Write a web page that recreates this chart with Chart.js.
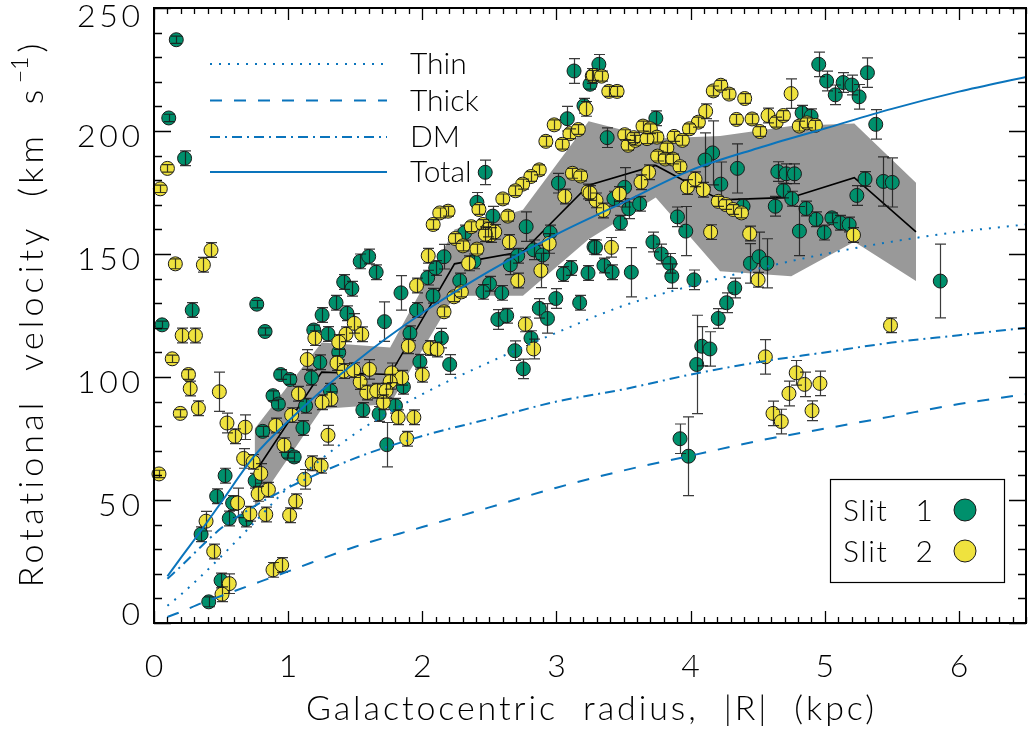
<!DOCTYPE html>
<html>
<head>
<meta charset="utf-8">
<title>Rotation curve</title>
<script src="https://cdn.jsdelivr.net/npm/chart.js@4.4.1/dist/chart.umd.min.js"></script>
<style>
  html, body { margin: 0; padding: 0; background: #fff; overflow: hidden; }
  #wrap { width: 1034px; height: 735px; }
</style>
</head>
<body>
<div id="wrap"><canvas id="c" width="1034" height="735"></canvas></div>
<script>
// ---- Slit 1: galactocentric radius (kpc), rotational velocity (km/s), error (km/s)
const slit1R = [
  0.166,0.11,0.228,0.285,0.06,0.766,0.828,0.944,1.013,0.887,0.927,0.81,1.0,1.045,0.53,0.467,0.754,0.586,0.561,0.685,0.351,0.5,0.408,
  1.537,1.60,1.656,1.414,1.475,1.841,2.04,2.10,1.357,1.253,1.438,1.718,1.191,1.297,1.957,2.08,1.908,1.982,1.377,1.236,1.174,1.859,1.315,1.13,1.80,1.557,1.678,1.11,1.735,
  3.131,3.205,3.081,2.469,3.015,2.407,2.526,2.774,2.316,2.953,2.83,2.896,2.711,3.28,2.162,2.385,2.656,3.106,3.052,3.235,2.279,2.501,2.452,2.592,2.995,3.173,2.872,2.933,2.563,2.629,2.142,2.81,2.69,2.204,2.753,
  3.316,3.25,3.741,3.378,4.164,4.107,4.349,4.225,4.391,4.631,4.65,4.712,4.774,4.692,4.754,4.86,4.811,3.508,3.428,3.539,3.62,3.477,3.291,3.354,3.415,3.558,3.719,3.781,3.843,3.86,3.902,3.964,4.025,4.446,4.51,4.569,4.329,4.268,4.206,
  4.955,5.014,5.078,5.137,5.202,5.256,5.318,5.38,4.831,4.898,5.3,5.437,5.503,5.239,4.935,4.996,5.053,5.115,5.182,5.861,
  4.083,4.144,4.045,3.921,3.984
];
const slit1V = [
  237.1,205.3,188.9,127.2,121.2,129.6,118.5,101.0,99.0,92.4,89.0,77.9,69.0,67.5,59.9,51.5,57.8,48.8,42.5,42.1,36.1,17.3,8.6,
  147,149,142.6,138.6,135.9,134.2,140.4,144.3,130.2,125.2,125.9,122.5,119.1,117.5,127.2,133,117.8,106.2,110,106,99.7,96.0,94.4,88.3,88.3,86.6,85.0,79.3,72.5,
  224.4,210.3,205,183.2,178.8,171,165.4,161.1,158.7,158.7,151.7,149.6,149.3,152.9,148.9,147,145.6,144.3,141.9,142.3,139.2,137.9,134.6,134.2,131.9,130.2,127.9,123.8,123.4,124.9,115.8,115.8,110.7,105.1,103.3,
  227.1,219,205.2,197.3,191.1,188.2,184.8,178.4,169.4,169.4,183.5,182.6,182.6,175.8,172.5,168.5,159.3,177.1,172.5,168.4,170.4,162.7,152.7,145.3,142.6,142.6,154.9,150,146.2,141,165.1,159.3,139.5,146.2,148.9,146.2,136.2,130.2,123.8,
  227.1,220.3,214.7,219.7,218.7,213.9,223.7,202.7,207.4,206,180.5,179.5,179.1,173.8,164.1,158.7,164.7,162.7,162,139,
  112.5,111.4,105.1,74.9,67.8
];
const slit1Err = [
  1.5,1.5,3,3,1.5,1.5,1.5,2,2,2,2,2,2,2,3,3,3,3,3,3,3,3,2,
  3,3,3,3,3,7,3,3,3,3,3,8,2,3,3,3,3,3,3,3,3,3,3,3,3,3,3,3,9,
  5,3,5,5,4,4,4,6,3,3,4,4,3,3,5,3,4,3,3,3,3,3,3,3,4,3,4,6,4,3,4,3,4,4,4,
  4,2,3,4,13,11,10,9,3,4,4,4,4,3,3,3,10,8,3,4,3,3,3,3,3,10,4,4,4,5,4,10,4,8,10,10,4,4,4,
  5,4,4,4,4,5,6,6,3,3,3,10,10,4,3,3,2,3,3,15,
  8,7,20,6,16
];

// ---- Slit 2
const slit2R = [
  0.10,0.047,0.425,0.159,0.368,0.21,0.309,0.136,0.257,0.27,0.196,0.331,0.487,0.544,0.603,0.68,0.668,0.739,0.796,0.037,0.907,0.969,1.026,1.077,0.776,0.853,0.623,0.715,0.833,1.011,1.056,0.388,0.445,0.887,0.952,0.561,0.507,
  1.957,1.493,1.199,1.431,1.549,1.377,1.896,2.056,2.11,2.0,1.142,1.364,1.414,1.488,1.606,1.537,1.772,1.846,1.76,1.586,1.66,1.73,1.319,1.253,1.71,1.82,1.937,1.297,1.884,1.179,1.246,1.122,
  3.267,3.22,2.983,3.10,3.163,2.921,3.044,2.872,2.809,2.748,2.694,3.119,3.18,3.062,3.237,3.295,2.6,2.422,2.192,2.13,2.081,2.637,2.365,2.452,2.49,2.51,2.54,2.47,2.246,2.303,2.649,2.407,2.946,2.044,2.345,2.884,2.711,2.236,2.291,2.162,2.768,2.83,
  3.274,3.336,3.39,3.452,4.169,4.225,4.287,4.403,4.749,4.112,4.058,3.991,4.342,4.458,4.577,4.638,4.692,4.515,4.81,3.645,3.70,3.749,3.509,3.534,3.588,3.576,3.675,3.877,3.939,3.823,3.754,3.81,3.867,3.921,3.687,3.63,3.976,4.033,4.095,4.206,4.262,4.317,4.379,3.469,3.25,3.349,3.41,4.149,4.44,4.503,4.867,4.93,5.214,5.49,
  4.557,4.787,4.849,4.964,4.733,4.905,4.614,4.676
];
const slit2V = [
  184.8,176.5,151.6,146.0,145.6,116.9,116.9,107.4,101.0,95.3,85.2,87.3,94.0,81.3,75.9,79.6,66.9,65.5,60.8,60.6,80.3,72.3,84.5,93.2,52.5,54.2,48.8,44.4,44.1,43.8,49.5,41.4,29.1,21.6,23.6,16.0,11.7,
  137.2,121.8,115.8,117.4,117.4,114.2,112.5,111.8,111.2,100.9,107.1,105.7,102.4,102.8,103.1,98.0,101.7,99.7,98.1,93.7,94.4,94.4,91.0,89.7,89.7,83.6,83.6,76.3,74.9,64.9,63.9,58.4,
  222.4,209,202.5,198.9,200.6,195.8,194.6,184.2,181.5,178.4,175.7,182.8,181.7,173.4,175.4,171.8,172.4,168.1,167.4,166.7,162,165.4,161.1,162,160,157.7,159,158,156.3,153.3,154.9,152,154.3,149.3,146.2,143.3,139.2,132.6,134.6,126.5,121.4,111.4,
  222.6,222.3,216.1,216.1,216.3,218.6,215,213.2,215.2,208,203.6,200.9,204.7,204.9,206.3,203.6,206.3,199.8,202,202,200.9,197.5,198.5,194.2,196.2,197.3,196.9,197.8,196.2,193.1,189.8,188.6,188.6,185.5,183.2,179.2,177.2,180.4,176.1,171.4,170.1,168.1,166.7,174.4,174.8,167.7,152.7,158.9,158.3,139.5,203.3,202.3,157.7,121,
  108.2,101.7,97,97.4,93.3,86.3,85.2,81.9
];
const slit2Err = [
  1.5,1.5,3,2,3,3,3,1.5,2,3,1.5,3,8,4,3,5,4,3,4,1.5,3,3,3,3,3,3,6,3,3,3,3,4,3,3,3,4,3,
  3,4,3,3,3,3,3,3,3,3,4,3,3,3,4,3,4,3,3,3,3,3,3,3,3,3,3,4,3,3,3,4,
  3,3,2,2,2,2,2,2,2,2,2,2,2,3,3,3,2,2,2,2,2,2,2,2,3,3,3,3,2,2,3,2,4,3,3,7,3,2,2,2,3,4,
  2,2,2,2,2,2,2,2,6,3,2,2,2,2,3,2,2,2,2,2,2,2,2,2,2,2,2,2,2,2,2,2,2,2,3,3,3,3,3,2,2,2,2,3,3,3,4,3,3,3,2,2,3,3,
  7,5,5,5,5,4,5,5
];

// ---- Binned median of both slits and its spread
const binR      = [0.75, 1.25, 1.76, 2.24, 2.75, 3.24, 3.74, 4.22, 4.75, 5.22, 5.68];
const binMedian = [61, 102, 101, 146, 151, 178, 186, 172, 173, 181, 159];
const binUpper  = [79, 114, 112, 160, 168, 204, 197, 198, 202, 203, 179];
const binLower  = [47, 87, 89, 133, 133, 156, 173, 143, 141, 155, 139];

// ---- Mass-model rotation curves (km/s)
const modelR = [0.1, 0.2, 0.35, 0.5, 0.75, 1, 1.5, 2, 2.5, 3, 3.5, 4, 4.5, 5, 5.5, 6, 6.5];
const thinV  = [7, 11.5, 19, 27, 41, 55, 77, 93, 106, 118, 129, 137, 144, 150, 155, 159, 162];
const thickV = [2.5, 4.5, 8, 11, 16, 21, 31, 39, 47, 55, 62, 68, 74, 79, 84, 89, 93];
const dmV    = [18, 23, 31, 38.5, 47.5, 55, 67, 76, 83, 90, 95, 101, 106, 110, 114, 117, 120];
const totalV = [19, 26.5, 37.5, 49, 68, 82, 106, 126, 143, 158, 171, 184, 193, 201, 209, 216, 222];

// ---- Axes and labels
const xTicks = [0, 1, 2, 3, 4, 5, 6];
const yTicks = [0, 50, 100, 150, 200, 250];
const xTitle = 'Galactocentric radius, |R| (kpc)';
const yTitle = 'Rotational velocity (km s';
const yTitleSup = '\u22121';
const curveNames = ['Thin', 'Thick', 'DM', 'Total'];
const slitNames = ['Slit 1', 'Slit 2'];

// ---- Styles
const GREEN = '#00906C';
const YELLOW = '#EFE23E';
const BLUE = '#0A74BC';
const BAND = '#999999';
const FONT = 'Lato, "Open Sans", "DejaVu Sans", sans-serif';
const curveDashes = [[2, 7], [12, 12], [10, 5, 2, 5], []];

const zip = (xs, ys) => xs.map((x, i) => ({ x, y: ys[i] }));

const pointSet = (label, xs, ys, errs, color, order) => ({
  type: 'scatter', label, data: zip(xs, ys), errors: errs, order,
  pointRadius: 7, pointHoverRadius: 7, pointBackgroundColor: color,
  pointBorderColor: '#1a1a1a', pointBorderWidth: 1, showLine: false, clip: false
});

const curveSet = (label, ys, dash, order) => ({
  type: 'line', label, data: zip(modelR, ys), order,
  borderColor: BLUE, borderWidth: 2, borderDash: dash, borderCapStyle: 'butt',
  pointRadius: 0, fill: false, cubicInterpolationMode: 'monotone'
});

const datasets = [
  { type: 'line', label: 'upper', data: zip(binR, binUpper), order: 20, fill: '+1',
    backgroundColor: BAND, borderWidth: 0, pointRadius: 0, tension: 0 },
  { type: 'line', label: 'lower', data: zip(binR, binLower), order: 20, fill: false,
    borderWidth: 0, pointRadius: 0, tension: 0 },
  { type: 'line', label: 'median', data: zip(binR, binMedian), order: 15,
    borderColor: '#000', borderWidth: 1.6, pointRadius: 0, tension: 0, fill: false },
  pointSet(slitNames[0], slit1R, slit1V, slit1Err, GREEN, 11),
  pointSet(slitNames[1], slit2R, slit2V, slit2Err, YELLOW, 10),
  curveSet(curveNames[0], thinV, curveDashes[0], 3),
  curveSet(curveNames[1], thickV, curveDashes[1], 2),
  curveSet(curveNames[2], dmV, curveDashes[2], 1),
  curveSet(curveNames[3], totalV, curveDashes[3], 0)
];

// Text stretched to a given width; wordShare of the extra room goes between words
function fitText(ctx, text, x, y, width, align, wordShare) {
  ctx.letterSpacing = '0px';
  ctx.wordSpacing = '0px';
  const w0 = ctx.measureText(text).width;
  const n = text.length;
  const gaps = (text.match(/ /g) || []).length;
  let total = w0, ls = 0, ws = 0;
  if (width && n > 1) {
    const extra = width - w0;
    ws = gaps > 0 ? extra * (wordShare || 0) / gaps : 0;
    ls = (extra - ws * gaps) / (n - 1);
    total = width;
  }
  ctx.letterSpacing = ls + 'px';
  ctx.wordSpacing = ws + 'px';
  let x0 = x;
  if (align === 'center') x0 = x - total / 2;
  else if (align === 'right') x0 = x - total;
  ctx.textAlign = 'left';
  ctx.fillText(text, x0, y);
  ctx.letterSpacing = '0px';
  ctx.wordSpacing = '0px';
  return total;
}

// Vertical error bars with caps, drawn right after their points
const errorBars = {
  id: 'errorBars',
  afterDatasetDraw(chart, args) {
    const ds = chart.data.datasets[args.index];
    if (!ds.errors) return;
    const ys = chart.scales.y, ctx = chart.ctx;
    ctx.save();
    ctx.strokeStyle = 'rgba(25,25,25,0.85)';
    ctx.lineWidth = 1.2;
    args.meta.data.forEach((pt, i) => {
      const v = ds.data[i].y, e = ds.errors[i];
      const t = ys.getPixelForValue(v + e), b = ys.getPixelForValue(v - e);
      const px = Math.round(pt.x) + 0.5;
      ctx.beginPath();
      ctx.moveTo(px, t); ctx.lineTo(px, b);
      ctx.moveTo(px - 5.5, t); ctx.lineTo(px + 5.5, t);
      ctx.moveTo(px - 5.5, b); ctx.lineTo(px + 5.5, b);
      ctx.stroke();
    });
    ctx.restore();
  }
};

// Frame with inward ticks on all sides, tick labels, titles and legends
const frame = {
  id: 'frame',
  afterDraw(chart) {
    const ctx = chart.ctx, a = chart.chartArea;
    const xs = chart.scales.x, ys = chart.scales.y;
    ctx.save();
    ctx.strokeStyle = '#000';
    ctx.fillStyle = '#000';
    ctx.lineWidth = 2;
    ctx.strokeRect(a.left, a.top, a.right - a.left, a.bottom - a.top);

    ctx.lineWidth = 1.3;
    ctx.beginPath();
    for (let k = 0; k <= 65; k++) {
      const px = Math.round(xs.getPixelForValue(k / 10)) + 0.5;
      const len = k % 10 === 0 ? 12 : 6;
      ctx.moveTo(px, a.bottom); ctx.lineTo(px, a.bottom - len);
      ctx.moveTo(px, a.top); ctx.lineTo(px, a.top + len);
    }
    for (let v = 0; v <= 250; v += 10) {
      const py = Math.round(ys.getPixelForValue(v)) + 0.5;
      const len = v % 50 === 0 ? 17 : 8;
      ctx.moveTo(a.left, py); ctx.lineTo(a.left + len, py);
      ctx.moveTo(a.right, py); ctx.lineTo(a.right - len, py);
    }
    ctx.stroke();

    // tick labels
    ctx.font = '300 32px ' + FONT;
    ctx.textBaseline = 'alphabetic';
    xTicks.forEach(t => {
      ctx.textAlign = 'center';
      ctx.fillText(String(t), xs.getPixelForValue(t), 677);
    });
    yTicks.forEach(t => {
      const base = Math.min(Math.max(ys.getPixelForValue(t) + 16, 27), 625);
      const s = String(t);
      fitText(ctx, s, 140, base, s.length > 1 ? s.length * 21 : 0, 'right', 0);
    });

    // axis titles
    ctx.font = '300 34px ' + FONT;
    fitText(ctx, xTitle, (a.left + a.right) / 2, 720, 568, 'center', 0.3);

    ctx.save();
    ctx.translate(43, (a.top + a.bottom) / 2);
    ctx.rotate(-Math.PI / 2);
    const mainW = 498, supGap = 6;
    ctx.font = '300 23px ' + FONT;
    const supW = ctx.measureText(yTitleSup).width;
    ctx.font = '300 34px ' + FONT;
    const closeW = ctx.measureText(')').width;
    const totalW = mainW + supGap + supW + 4 + closeW;
    const x0 = -totalW / 2;
    fitText(ctx, yTitle, x0, 0, mainW, 'left', 0.3);
    ctx.font = '300 23px ' + FONT;
    ctx.textAlign = 'left';
    ctx.fillText(yTitleSup, x0 + mainW + supGap, -15);
    ctx.font = '300 34px ' + FONT;
    ctx.fillText(')', x0 + mainW + supGap + supW + 4, 0);
    ctx.restore();

    // model curve legend
    const legY = [64, 100.5, 137, 172];
    ctx.font = '300 30px ' + FONT;
    curveNames.forEach((name, i) => {
      ctx.save();
      ctx.strokeStyle = BLUE;
      ctx.lineWidth = 2;
      ctx.setLineDash(curveDashes[i]);
      ctx.beginPath();
      ctx.moveTo(210, legY[i]); ctx.lineTo(387, legY[i]);
      ctx.stroke();
      ctx.restore();
      fitText(ctx, name, 410, legY[i] + 10, 0, 'left', 0);
    });

    // slit legend
    ctx.fillStyle = '#fff';
    ctx.fillRect(830, 479, 174, 103);
    ctx.lineWidth = 1.2;
    ctx.strokeRect(830.5, 479.5, 174, 103);
    const slitY = [510, 551];
    const slitCol = [GREEN, YELLOW];
    slitNames.forEach((name, i) => {
      ctx.fillStyle = '#000';
      ctx.font = '300 30px ' + FONT;
      fitText(ctx, name, 843, slitY[i] + 11, 90, 'left', 0.7);
      ctx.beginPath();
      ctx.arc(965, slitY[i], 11, 0, Math.PI * 2);
      ctx.fillStyle = slitCol[i];
      ctx.fill();
      ctx.lineWidth = 1;
      ctx.strokeStyle = '#1a1a1a';
      ctx.stroke();
    });
    ctx.restore();
  }
};

new Chart(document.getElementById('c'), {
  data: { datasets },
  options: {
    responsive: false,
    animation: false,
    events: [],
    layout: { padding: { left: 154, top: 2, right: 4, bottom: 112 } },
    scales: {
      x: { type: 'linear', min: 0, max: 6.5, display: false },
      y: { type: 'linear', min: 0, max: 250, display: false }
    },
    plugins: {
      legend: { display: false },
      tooltip: { enabled: false },
      filler: { propagate: false }
    }
  },
  plugins: [errorBars, frame]
});
</script>
</body>
</html>
